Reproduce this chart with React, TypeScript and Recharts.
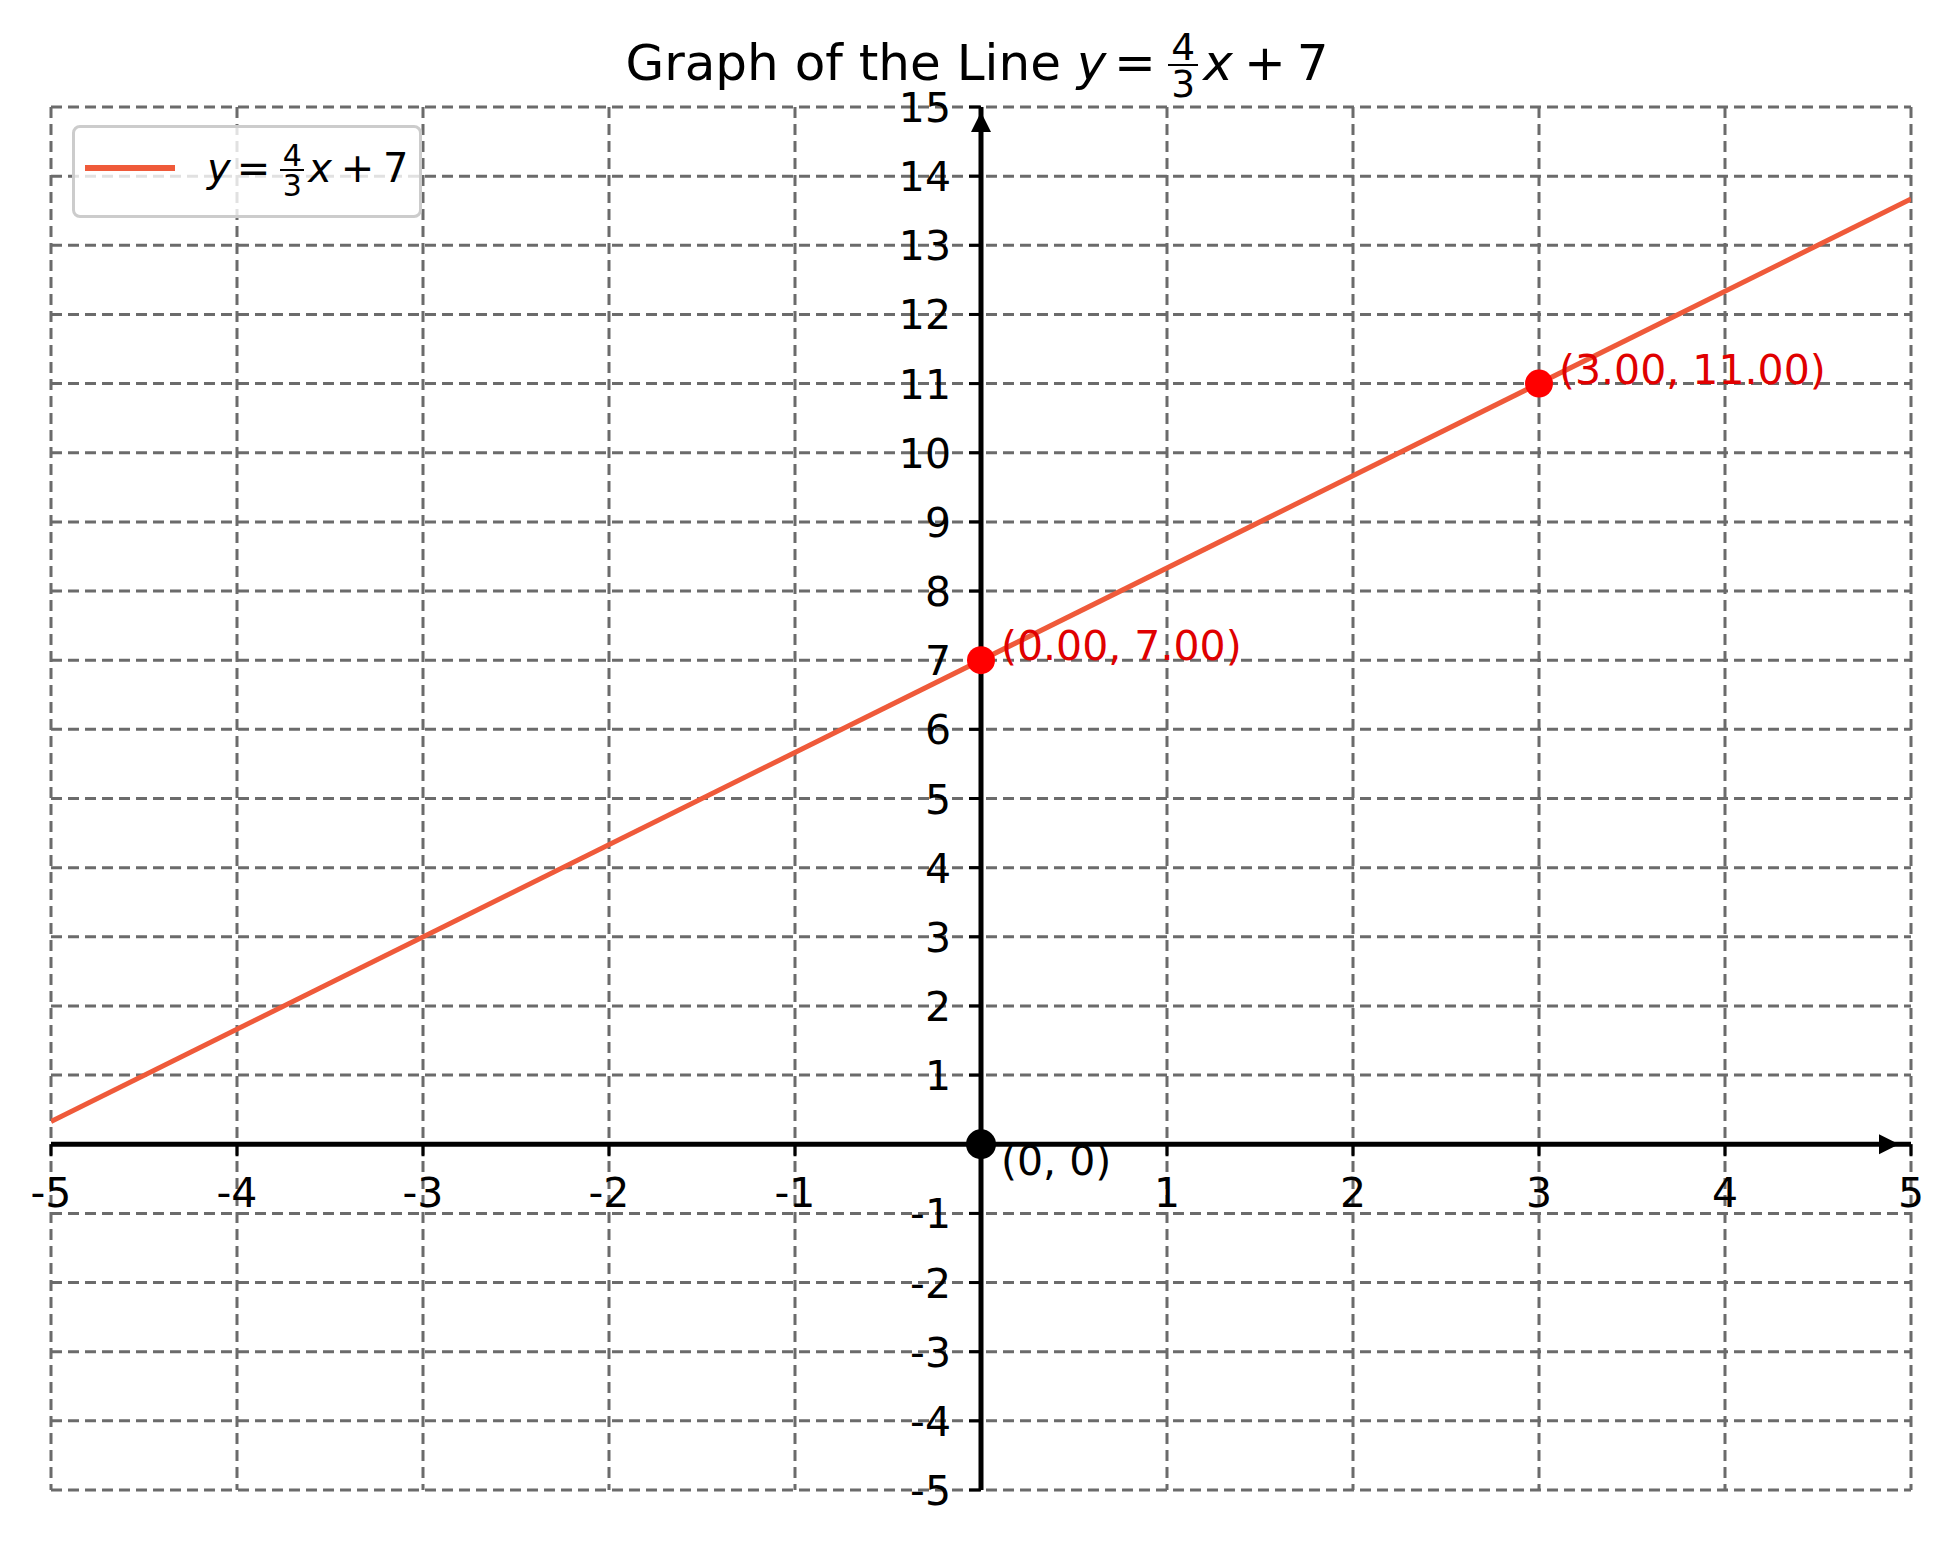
import React from 'react'
import {
  ComposedChart,
  Line,
  Scatter,
  XAxis,
  YAxis,
  CartesianGrid,
  ReferenceLine,
  ReferenceDot,
  Legend,
} from 'recharts'

const xTicks = [-5, -4, -3, -2, -1, 0, 1, 2, 3, 4, 5]
const xTickLabels = ['-5', '-4', '-3', '-2', '-1', '', '1', '2', '3', '4', '5']
const yTicks = [-5, -4, -3, -2, -1, 0, 1, 2, 3, 4, 5, 6, 7, 8, 9, 10, 11, 12, 13, 14, 15]
const yTickLabels = ['-5', '-4', '-3', '-2', '-1', '', '1', '2', '3', '4', '5', '6', '7', '8', '9', '10', '11', '12', '13', '14', '15']

// ends of the drawn line
const lineX = [-5, 5]
const lineY = [0.33, 13.67]

const markedX = [0, 3]
const markedY = [7, 11]
const markedLabels = ['(0.00, 7.00)', '(3.00, 11.00)']

const originX = [0]
const originY = [0]
const originLabels = ['(0, 0)']

const lineData = lineX.map((x, i) => ({ x, y: lineY[i] }))
const markedData = markedX.map((x, i) => ({ x, y: markedY[i], label: markedLabels[i] }))
const originData = originX.map((x, i) => ({ x, y: originY[i], label: originLabels[i] }))

const FONT = '"DejaVu Sans", sans-serif'
const LINE_COLOR = '#ef5a3a'
const GRID_COLOR = '#6b6b6b'

// stacked fraction, sized in em of the surrounding text
const Frac = ({ num, den }: { num: string; den: string }) => (
  <span style={{ position: 'relative', display: 'inline-block', width: '0.6em', height: 0, margin: '0 0.1em' }}>
    <span style={{ position: 'absolute', left: 0, right: 0, bottom: '0.479em', textAlign: 'center', fontSize: '0.75em', lineHeight: 0.8 }}>{num}</span>
    <span style={{ position: 'absolute', left: 0, right: 0, bottom: '0.278em', height: '0.045em', background: 'currentColor' }} />
    <span style={{ position: 'absolute', left: 0, right: 0, top: '-0.283em', textAlign: 'center', fontSize: '0.75em', lineHeight: 0.8 }}>{den}</span>
  </span>
)

const Eq = () => (
  <span style={{ whiteSpace: 'nowrap' }}>
    <span style={{ fontStyle: 'italic' }}>y</span>
    <span style={{ margin: '0 0.15em' }}>=</span>
    <Frac num="4" den="3" />
    <span style={{ fontStyle: 'italic' }}>x</span>
    <span style={{ margin: '0 0.22em' }}>+</span>
    <span>7</span>
  </span>
)

const LegendBox = () => (
  <div
    style={{
      position: 'relative',
      width: 350,
      height: 93,
      boxSizing: 'border-box',
      border: '3px solid #cccccc',
      borderRadius: 8,
      background: 'rgba(255,255,255,0.8)',
      fontFamily: FONT,
      color: '#000',
    }}
  >
    <div style={{ position: 'absolute', left: 10, top: 37, width: 90, height: 6, background: LINE_COLOR }} />
    <div style={{ position: 'absolute', left: 132, top: 20, fontSize: 40, lineHeight: '40px' }}>
      <Eq />
    </div>
  </div>
)

const XTick = ({ cx, cy, label }: any) => (
  <g>
    <line x1={cx} y1={cy} x2={cx} y2={cy + 12} stroke="#000" strokeWidth={3} />
    <text x={cx} y={cy + 63} textAnchor="middle" fontSize={41} fontFamily={FONT} fill="#000">
      {label}
    </text>
  </g>
)

const YTick = ({ cx, cy, label }: any) => (
  <g>
    <line x1={cx} y1={cy} x2={cx - 12} y2={cy} stroke="#000" strokeWidth={3} />
    <text x={cx - 30} y={cy + 15} textAnchor="end" fontSize={41} fontFamily={FONT} fill="#000">
      {label}
    </text>
  </g>
)

const RightArrow = ({ cx, cy }: any) => (
  <polygon points={`${cx - 12},${cy} ${cx - 32},${cy - 10} ${cx - 32},${cy + 10}`} fill="#000" />
)

const UpArrow = ({ cx, cy }: any) => (
  <polygon points={`${cx},${cy + 5} ${cx - 10},${cy + 25} ${cx + 10},${cy + 25}`} fill="#000" />
)

const MarkedPoint = (p: any) => (
  <g>
    <circle cx={p.cx} cy={p.cy} r={14} fill="#ff0000" />
    <text x={p.cx + 20} y={p.cy} fontSize={41} fontFamily={FONT} fill="#e00000">
      {p.payload.label}
    </text>
  </g>
)

const OriginPoint = (p: any) => (
  <g>
    <circle cx={p.cx} cy={p.cy} r={15} fill="#000" />
    <text x={p.cx + 20} y={p.cy + 31} fontSize={41} fontFamily={FONT} fill="#000">
      {p.payload.label}
    </text>
  </g>
)

export default function App() {
  return (
    <div style={{ position: 'absolute', left: 0, top: 0, width: 1954, height: 1546, background: '#fff' }}>
      <ComposedChart width={1954} height={1546} margin={{ top: 107, right: 43, bottom: 56, left: 51 }}>
        <CartesianGrid stroke={GRID_COLOR} strokeWidth={3} strokeDasharray="11 6" />
        <XAxis type="number" dataKey="x" domain={[-5, 5]} ticks={xTicks} allowDataOverflow hide />
        <YAxis type="number" dataKey="y" domain={[-5, 15]} ticks={yTicks} allowDataOverflow hide />
        <Legend
          layout="vertical"
          align="center"
          verticalAlign="middle"
          wrapperStyle={{ left: 72, top: 125, width: 350, height: 93 }}
          content={() => <LegendBox />}
        />
        <Line
          data={lineData}
          dataKey="y"
          type="linear"
          stroke={LINE_COLOR}
          strokeWidth={5}
          dot={false}
          activeDot={false}
          isAnimationActive={false}
        />
        <ReferenceLine x={0} stroke="#000" strokeWidth={5} />
        <ReferenceLine y={0} stroke="#000" strokeWidth={5} />
        {xTicks.map((t, i) =>
          t === 0 ? null : (
            <ReferenceDot key={'xt' + t} x={t} y={0} ifOverflow="visible" shape={(p: any) => <XTick cx={p.cx} cy={p.cy} label={xTickLabels[i]} />} />
          )
        )}
        {yTicks.map((t, i) =>
          t === 0 ? null : (
            <ReferenceDot key={'yt' + t} x={0} y={t} ifOverflow="visible" shape={(p: any) => <YTick cx={p.cx} cy={p.cy} label={yTickLabels[i]} />} />
          )
        )}
        <ReferenceDot x={5} y={0} ifOverflow="visible" shape={(p: any) => <RightArrow cx={p.cx} cy={p.cy} />} />
        <ReferenceDot x={0} y={15} ifOverflow="visible" shape={(p: any) => <UpArrow cx={p.cx} cy={p.cy} />} />
        <Scatter data={markedData} dataKey="y" shape={MarkedPoint} isAnimationActive={false} />
        <Scatter data={originData} dataKey="y" shape={OriginPoint} isAnimationActive={false} />
      </ComposedChart>
      <div
        style={{
          position: 'absolute',
          left: 0,
          top: 38,
          width: 1954,
          textAlign: 'center',
          fontFamily: FONT,
          fontSize: 50,
          lineHeight: '50px',
          color: '#000',
        }}
      >
        Graph of the Line <Eq />
      </div>
    </div>
  )
}
